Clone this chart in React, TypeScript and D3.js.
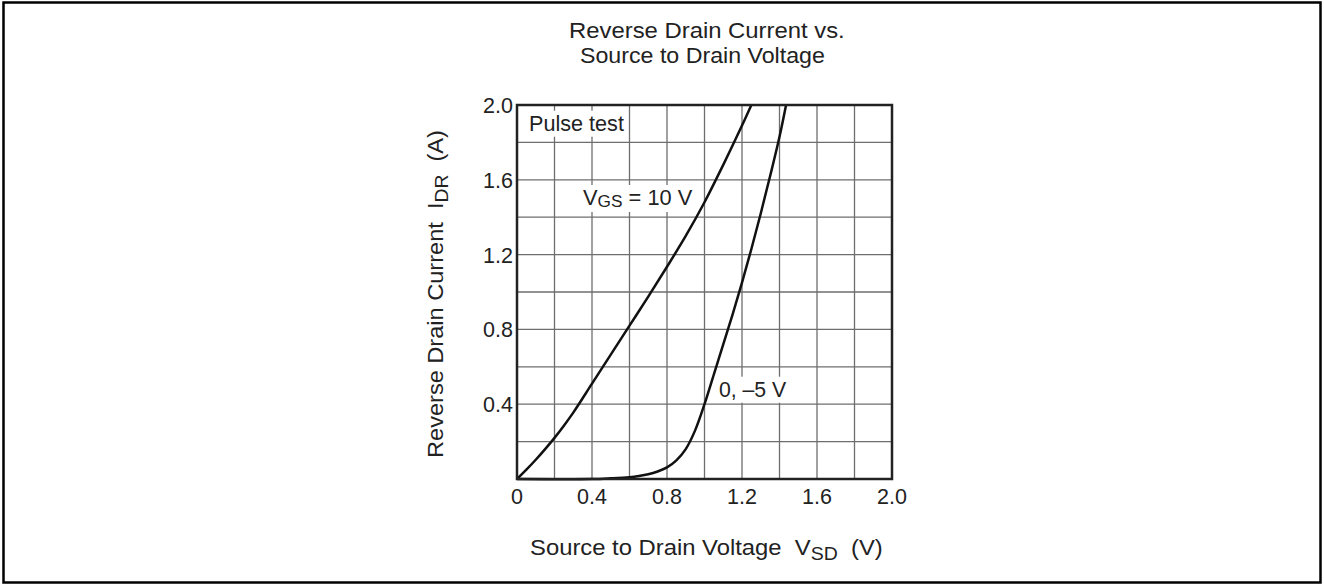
import { useEffect, useRef } from "react";
import * as d3 from "d3";

// V_SD (V) vs I_DR (A)
const vgs10V = [0, 0.05, 0.1, 0.15, 0.2, 0.25, 0.3, 0.4, 0.5, 0.6, 0.7, 0.8, 0.9, 1.0, 1.1, 1.2, 1.25];
const vgs10I = [0, 0.05, 0.103, 0.16, 0.22, 0.285, 0.355, 0.51, 0.665, 0.82, 0.975, 1.135, 1.3, 1.48, 1.68, 1.89, 2.0];

const vgs0V = [0, 0.4, 0.5, 0.6, 0.65, 0.7, 0.75, 0.8, 0.85, 0.9, 0.95, 1.0, 1.05, 1.1, 1.15, 1.2, 1.25, 1.3, 1.35, 1.4, 1.435];
const vgs0I = [0, 0, 0.004, 0.01, 0.016, 0.025, 0.04, 0.062, 0.1, 0.16, 0.26, 0.4, 0.56, 0.72, 0.88, 1.05, 1.23, 1.42, 1.62, 1.83, 2.0];

const xTickLabels = [0, 0.4, 0.8, 1.2, 1.6, 2.0];
const yTickLabels = [0.4, 0.8, 1.2, 1.6, 2.0];
const titleLines = ["Reverse Drain Current vs.", "Source to Drain Voltage"];

const FONT = "'Liberation Sans', Arial, sans-serif";
const INK = "#222";

export default function App() {
  const ref = useRef<SVGSVGElement | null>(null);

  useEffect(() => {
    document.body.style.margin = "0";
    const svg = d3.select(ref.current);
    svg.selectAll("*").remove();

    const width = 1324;
    const height = 585;
    const x = d3.scaleLinear().domain([0, 2]).range([517, 892]);
    const y = d3.scaleLinear().domain([0, 2]).range([479, 105]);

    svg.attr("width", width).attr("height", height).style("font-family", FONT);

    // text laid out at its natural size, then squeezed/stretched to the width seen in the picture
    const fitText = (build: (t: any) => void, left: number, baseline: number, targetW: number, size: number, opts: { rotate?: boolean; box?: boolean } = {}) => {
      const g = svg.append("g");
      const t = g.append("text").attr("font-size", size).attr("fill", INK).style("white-space", "pre");
      build(t);
      const bb = (t.node() as SVGTextElement).getBBox();
      const s = targetW / bb.width;
      if (opts.box) {
        g.insert("rect", "text")
          .attr("x", bb.x - 3).attr("y", bb.y - 1)
          .attr("width", bb.width + 6).attr("height", bb.height + 2)
          .attr("fill", "white");
      }
      g.attr("transform", opts.rotate
        ? `translate(${left},${baseline}) rotate(-90) scale(${s},1) translate(${-bb.x},0)`
        : `translate(${left},${baseline}) scale(${s},1) translate(${-bb.x},0)`);
      return g;
    };

    // outer frame
    svg.append("rect")
      .attr("x", 3.5).attr("y", 2.5)
      .attr("width", 1317).attr("height", 580)
      .attr("fill", "white").attr("stroke", "black").attr("stroke-width", 2.5);

    // title
    const titleBox = [[569, 37.7, 276], [580, 62.5, 245]];
    titleLines.forEach((line, i) => {
      const [l, b, w] = titleBox[i];
      fitText((t) => t.text(line), l, b, w, 22);
    });

    // grid
    const grid = svg.append("g").attr("stroke", "#6e6e6e").attr("stroke-width", 1.3);
    grid.selectAll("line.gx")
      .data(x.ticks(10))
      .enter().append("line")
      .attr("x1", (d: number) => x(d)).attr("x2", (d: number) => x(d))
      .attr("y1", y(0)).attr("y2", y(2));
    grid.selectAll("line.gy")
      .data(y.ticks(10))
      .enter().append("line")
      .attr("y1", (d: number) => y(d)).attr("y2", (d: number) => y(d))
      .attr("x1", x(0)).attr("x2", x(2));

    // annotation labels, white boxes hide the grid behind them
    fitText((t) => t.text("Pulse test"), x(0.064), 130.7, 95, 21.5, { box: true });
    fitText((t) => {
      t.append("tspan").text("V");
      t.append("tspan").attr("font-size", 17).attr("dy", 2).text("GS");
      t.append("tspan").attr("dy", -2).text(" = 10 V");
    }, x(0.352), 205, 110, 21.5, { box: true });
    fitText((t) => t.text("0, \u20135 V"), x(1.077), 396.7, 68, 21.5, { box: true });

    // curves
    const line = d3.line<[number, number]>()
      .x((d: [number, number]) => x(d[0]))
      .y((d: [number, number]) => y(d[1]))
      .curve(d3.curveCatmullRom.alpha(0.5));

    const series: [number, number][][] = [
      vgs10V.map((v, i) => [v, vgs10I[i]] as [number, number]),
      vgs0V.map((v, i) => [v, vgs0I[i]] as [number, number]),
    ];

    svg.append("g")
      .selectAll("path")
      .data(series)
      .enter().append("path")
      .attr("d", (d: [number, number][]) => line(d) as string)
      .attr("fill", "none")
      .attr("stroke", "#111")
      .attr("stroke-width", 2.5);

    // plot frame
    svg.append("rect")
      .attr("x", x(0)).attr("y", y(2))
      .attr("width", x(2) - x(0)).attr("height", y(0) - y(2))
      .attr("fill", "none").attr("stroke", INK).attr("stroke-width", 2.5);

    // tick labels
    svg.append("g").attr("font-size", 21.5).attr("fill", INK).attr("text-anchor", "middle")
      .selectAll("text")
      .data(xTickLabels)
      .enter().append("text")
      .attr("x", (d: number) => x(d))
      .attr("y", 503.5)
      .text((d: number) => (d === 0 ? "0" : d.toFixed(1)));

    svg.append("g").attr("font-size", 21.5).attr("fill", INK).attr("text-anchor", "end")
      .selectAll("text")
      .data(yTickLabels)
      .enter().append("text")
      .attr("x", 513)
      .attr("y", (d: number) => y(d) + 8)
      .text((d: number) => d.toFixed(1));

    // axis titles
    fitText((t) => {
      t.append("tspan").text("Source to Drain Voltage  V");
      t.append("tspan").attr("font-size", 18).attr("dy", 5).text("SD");
      t.append("tspan").attr("dy", -5).text("  (V)");
    }, 530, 555, 353, 22);

    fitText((t) => {
      t.append("tspan").text("Reverse Drain Current  I");
      t.append("tspan").attr("font-size", 18).attr("dy", 5).text("DR");
      t.append("tspan").attr("dy", -5).text("  (A)");
    }, 443, 458, 328, 22, { rotate: true });
  }, []);

  return (
    <div style={{ position: "absolute", left: 0, top: 0 }}>
      <svg ref={ref} />
    </div>
  );
}
